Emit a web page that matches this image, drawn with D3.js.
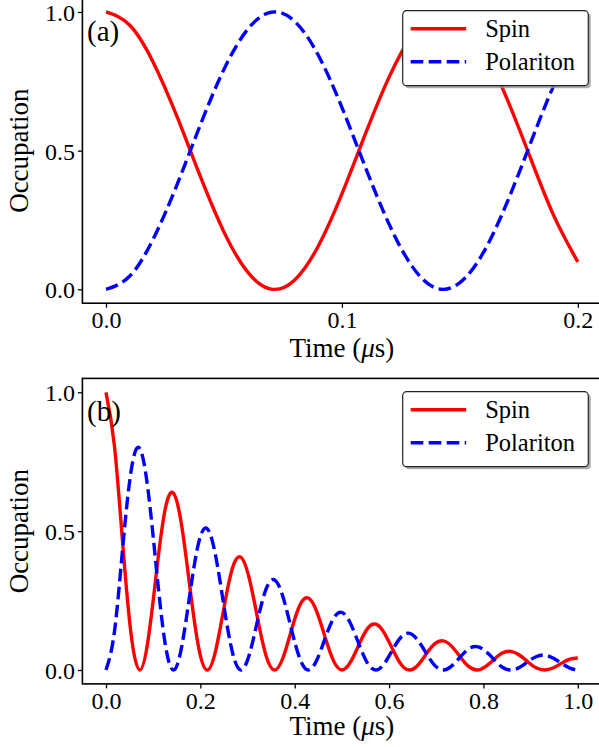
<!DOCTYPE html>
<html><head><meta charset="utf-8">
<script src="https://cdn.jsdelivr.net/npm/d3@7"></script>
<style>body{margin:0;background:#fff}svg{display:block}text{font-family:"Liberation Serif","Times New Roman",Times,Tinos,"Nimbus Roman","DejaVu Serif",serif !important;fill:#000}</style>
</head><body><svg id="c" width="599" height="747"></svg>
<script>
// ---- data panel (a) ----
const timeA = [0,0.01,0.02,0.03,0.04,0.05,0.06,0.07,0.08,0.09,0.10,0.11,0.12,0.13,0.14,0.15,0.16,0.17,0.18,0.19,0.20];
const spinA = [1.000,0.953,0.819,0.625,0.407,0.207,0.063,0.001,0.034,0.156,0.344,0.561,0.765,0.920,0.996,0.976,0.867,0.687,0.472,0.262,0.099];
const polA  = [0.000,0.047,0.181,0.375,0.593,0.793,0.937,0.999,0.966,0.844,0.656,0.439,0.235,0.080,0.004,0.024,0.133,0.313,0.528,0.738,0.901];
// ---- data panel (b) ----
const timeB = [0,0.0179,0.0358,0.0536,0.0715,0.0894,0.1073,0.1251,0.143,0.1609,0.1788,0.1966,0.2145,0.2324,0.2503,0.2681,0.286,0.3039,0.3218,0.3396,0.3575,0.3754,0.3933,0.4111,0.429,0.4469,0.4648,0.4826,0.5005,0.5184,0.5363,0.5541,0.572,0.5899,0.6078,0.6256,0.6435,0.6614,0.6793,0.6971,0.715,0.7329,0.7508,0.7686,0.7865,0.8044,0.8223,0.8401,0.858,0.8759,0.8938,0.9116,0.9295,0.9474,0.9653,0.9831,1.0];
const spinB = [1.000,0.807,0.447,0.123,0,0.110,0.357,0.576,0.637,0.515,0.285,0.079,0,0.070,0.227,0.367,0.406,0.328,0.182,0.050,0,0.045,0.145,0.234,0.259,0.209,0.116,0.032,0,0.029,0.092,0.149,0.165,0.133,0.074,0.020,0,0.018,0.059,0.095,0.105,0.085,0.047,0.013,0,0.012,0.038,0.061,0.067,0.054,0.030,0.008,0,0.007,0.024,0.039,0.043];
const polB  = [0,0.138,0.447,0.721,0.798,0.644,0.357,0.098,0,0.088,0.285,0.460,0.509,0.411,0.227,0.063,0,0.056,0.182,0.293,0.324,0.262,0.145,0.040,0,0.036,0.116,0.187,0.207,0.167,0.092,0.025,0,0.023,0.074,0.119,0.132,0.106,0.059,0.016,0,0.015,0.047,0.076,0.084,0.068,0.038,0.010,0,0.009,0.030,0.048,0.054,0.043,0.024,0.007,0];
const ticksA = [0.0,0.1,0.2];
const ticksB = [0.0,0.2,0.4,0.6,0.8,1.0];
const yTicks = [0.0,0.5,1.0];
const seriesNames = ["Spin","Polariton"];
const colors = ["#ff0000","#0000ff"];

const svg = d3.select("#c");
const defs = svg.append("defs");

function panel(cfg){
  const g = svg.append("g");
  const x = d3.scaleLinear().domain(cfg.xdom).range([82.4, 601.4]);
  const y = d3.scaleLinear().domain([-0.05,1.05]).range(cfg.yr);
  const cid = "clip"+cfg.id;
  defs.append("clipPath").attr("id",cid).append("rect")
    .attr("x",x.range()[0]).attr("y",y.range()[1]).attr("width",x.range()[1]-x.range()[0]).attr("height",y.range()[0]-y.range()[1]);
  const line = (xs,ys)=>d3.line().x((d,i)=>x(xs[i])).y(d=>y(d)).curve(d3.curveNatural)(ys);
  const pl = g.append("g").attr("clip-path",`url(#${cid})`);
  pl.append("path").attr("d",line(cfg.t,cfg.s)).attr("fill","none").attr("stroke",colors[0]).attr("stroke-width",3.4).attr("stroke-linejoin","round").attr("stroke-linecap","butt");
  pl.append("path").attr("d",line(cfg.t,cfg.p)).attr("fill","none").attr("stroke",colors[1]).attr("stroke-width",3.4).attr("stroke-dasharray","12.6,5.4").attr("stroke-linecap","butt");
  // axes
  const xa = g.append("g").attr("transform",`translate(0,${y.range()[0]})`)
    .call(d3.axisBottom(x).tickValues(cfg.xt).tickFormat(d3.format(".1f")).tickSize(4.5).tickPadding(3));
  const ya = g.append("g").attr("transform",`translate(${x.range()[0]},0)`)
    .call(d3.axisLeft(y).tickValues(yTicks).tickFormat(d3.format(".1f")).tickSize(4.5).tickPadding(3));
  [xa,ya].forEach(a=>{a.attr("font-family",null);a.select(".domain").remove();a.selectAll("line").attr("stroke","#000").attr("stroke-width",1.3);
    a.selectAll("text").attr("font-size",24);});
  xa.selectAll("text").attr("dy","0.72em");
  ya.selectAll("text").attr("dy","0.36em");
  // spines
  const [x0,x1]=x.range(), [y0,y1]=y.range();
  g.append("rect").attr("x",x0).attr("y",y1).attr("width",x1-x0).attr("height",y0-y1).attr("fill","none").attr("stroke","#000").attr("stroke-width",1.6);
  // labels
  g.append("text").attr("x",(x0+x1)/2).attr("y",cfg.xlabY).attr("text-anchor","middle").attr("font-size",27)
    .html('Time (<tspan font-style="italic">μ</tspan>s)');
  g.append("text").attr("transform",`translate(27.5,${(y0+y1)/2}) rotate(-90)`).attr("text-anchor","middle").attr("font-size",27).text("Occupation");
  g.append("text").attr("x",87).attr("y",cfg.tagY).attr("font-size",29).text(cfg.tag);
  // legend
  const lx=402.7, ly=cfg.legY, lw=185.6, lh=75;
  g.append("rect").attr("x",lx+2.5).attr("y",ly+2.5).attr("width",lw).attr("height",lh).attr("rx",4).attr("fill","#999").attr("opacity",0.8);
  g.append("rect").attr("x",lx).attr("y",ly).attr("width",lw).attr("height",lh).attr("rx",4).attr("fill","#fff").attr("stroke","#222").attr("stroke-width",1.2);
  seriesNames.forEach((n,i)=>{
    const yy = ly+18+i*33;
    g.append("line").attr("x1",lx+8).attr("x2",lx+63.5).attr("y1",yy).attr("y2",yy).attr("stroke",colors[i]).attr("stroke-width",3.4)
      .attr("stroke-dasharray",i?"12.6,5.4":null);
    g.append("text").attr("x",lx+82.5).attr("y",yy+8.5).attr("font-size",24.5).text(n);
  });
}
panel({id:"a",xdom:[-0.01,0.21],yr:[303.2,-1.9],t:timeA,s:spinA,p:polA,xt:ticksA,xlabY:356.5,tag:"(a)",tagY:41,legY:10.7});
panel({id:"b",xdom:[-0.05,1.05],yr:[683.9,378.4],t:timeB,s:spinB,p:polB,xt:ticksB,xlabY:735,tag:"(b)",tagY:421,legY:391.7});
</script></body></html>
